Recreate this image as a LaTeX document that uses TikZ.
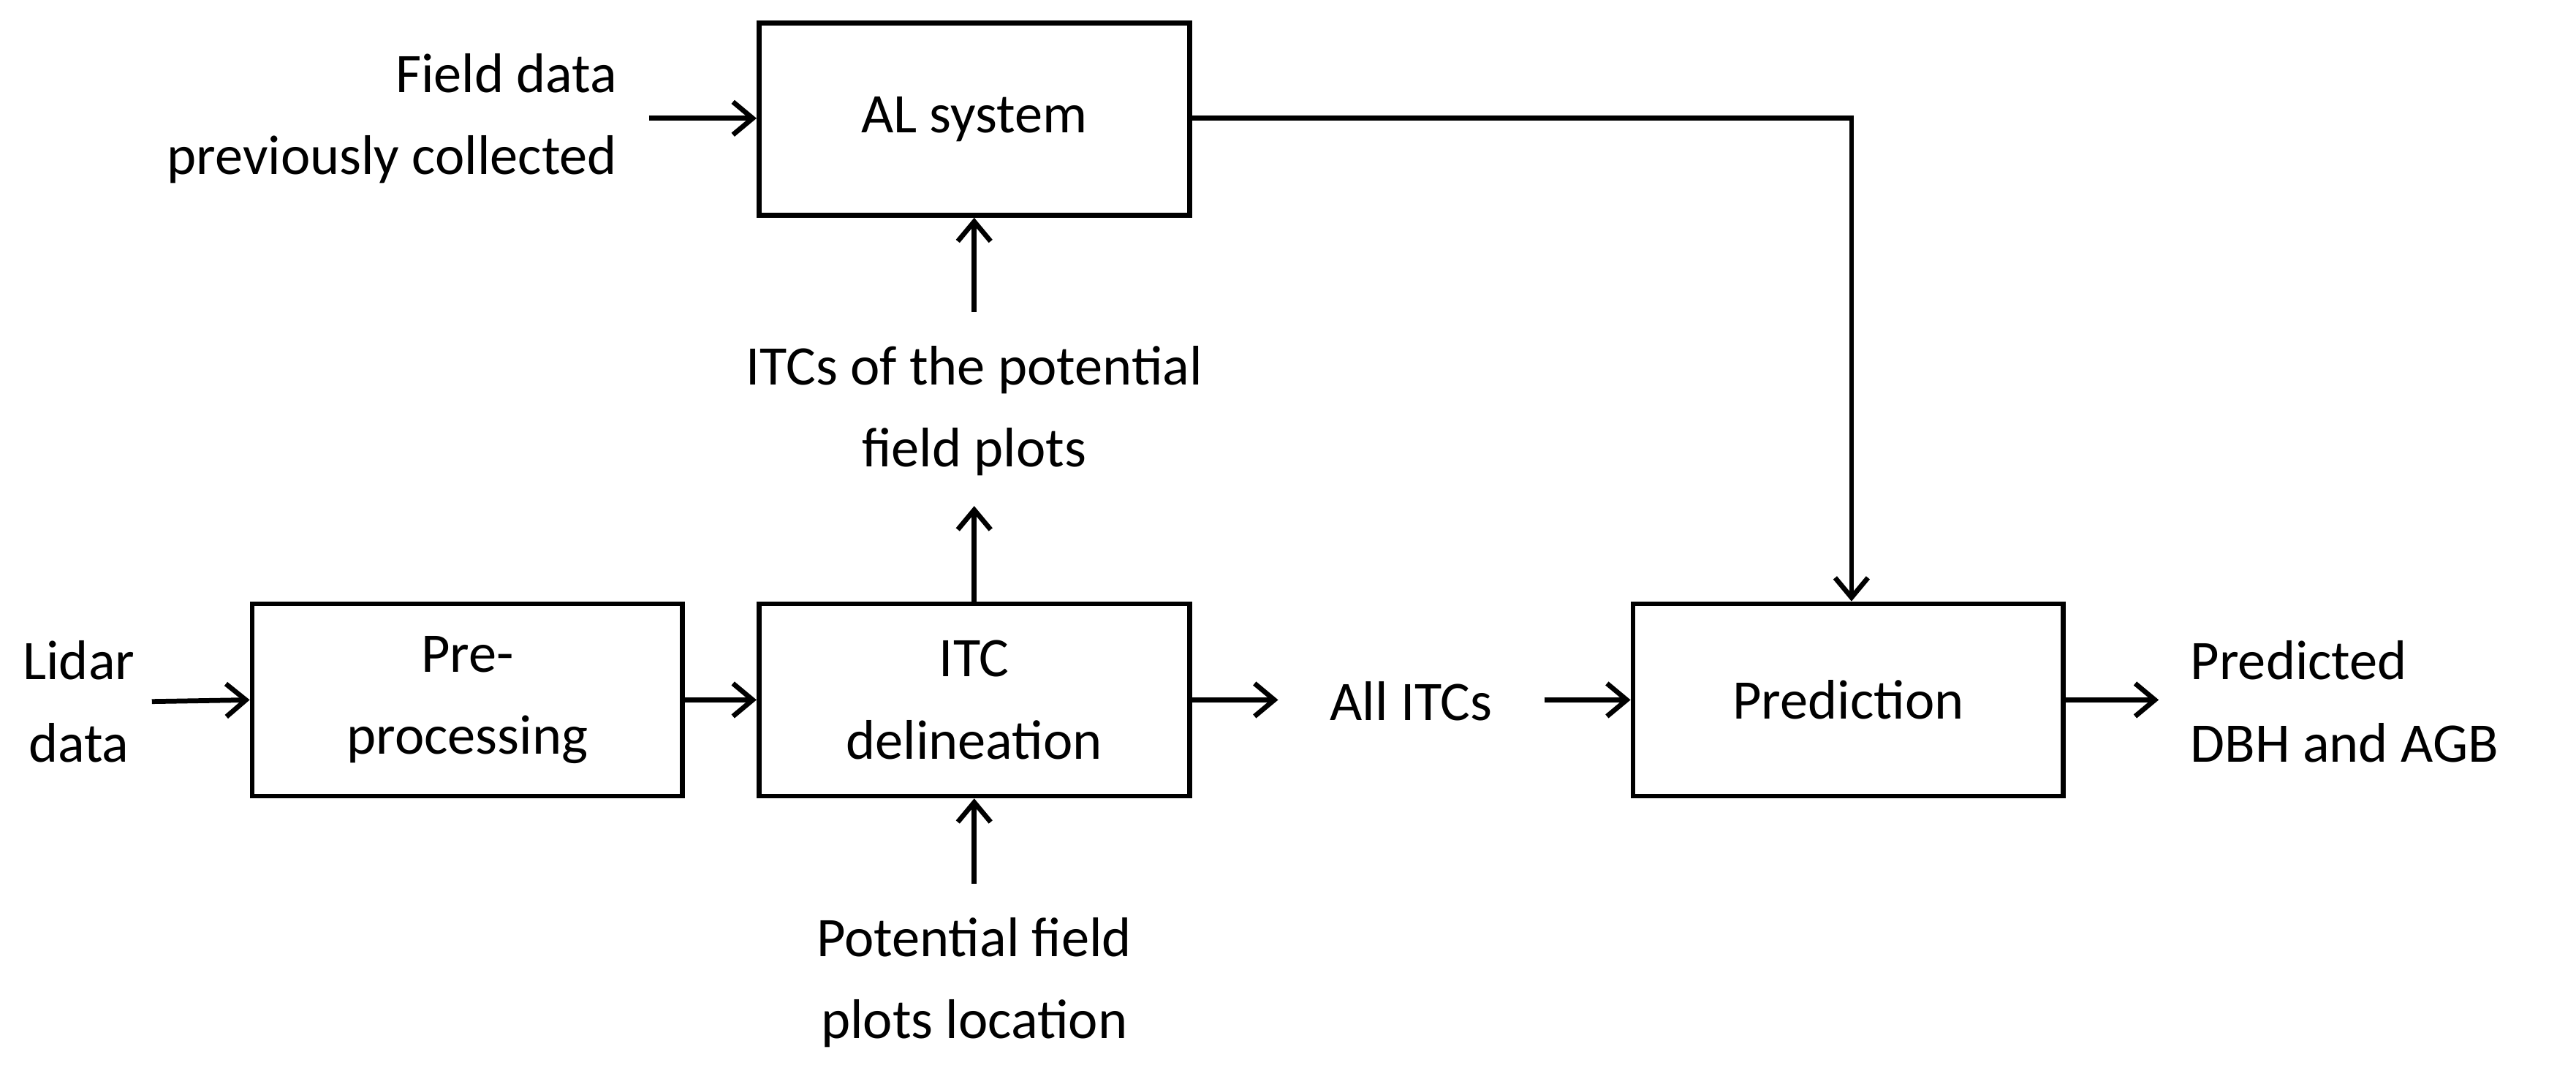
\documentclass[tikz,border=0pt]{standalone}
\usepackage{fontspec}
\setmainfont{Carlito}
\usetikzlibrary{arrows.meta}
\begin{document}
\begin{tikzpicture}[x=0.5pt,y=-0.5pt,
  box/.style={draw,line width=1.5pt,minimum width=131pt,minimum height=58.5pt,inner sep=0pt},
  lbl/.style={font=\fontsize{17}{25}\selectfont,align=center,inner sep=0pt},
  arr/.style={line width=1.5pt,-{Straight Barb[length=6pt,width=10pt,line width=1.5pt]}}]
\useasboundingbox (0,0) rectangle (1568,650);
\node[box] (al) at (593,72.5) {};
\node[lbl] at (al) {AL system};
\node[box] (pre) at (284.5,426) {};
\node[lbl] at (pre) {Pre-\\processing};
\node[box] (itc) at (593,426) {};
\node[lbl] at (itc) {ITC\\delineation};
\node[box] (pred) at (1125,426) {};
\node[lbl] at (pred) {Prediction};
\node[lbl,align=right,anchor=east] (field) at (376,72) {Field data\\previously collected};
\node[lbl] (itcs) at (593,250) {ITCs of the potential\\field plots};
\node[lbl] (lidar) at (48,427) {Lidar\\data};
\node[lbl] (all) at (859,427) {All ITCs};
\node[lbl,align=left,anchor=west] (out) at (1333,427) {Predicted\\DBH and AGB};
\node[lbl] (loc) at (593,598) {Potential field\\plots location};
\coordinate (c1) at (395,72);
\coordinate (c2) at (1127,72);
\draw[arr] (c1) -- (al.west |- c1);
\draw[arr] (593,190) -- (al.south);
\draw[arr] (itc.north) -- (593,308);
\draw[arr] (lidar.east)++(10,0) -- (pre.west);
\draw[arr] (pre.east) -- (itc.west);
\draw[arr] (itc.east) -- (778,426);
\draw[arr] (940,426) -- (pred.west);
\draw[arr] (pred.east) -- (1314,426);
\draw[arr] (593,538) -- (itc.south);
\draw[arr] (al.east |- c2) -- (c2) -- (pred.north -| c2);
\end{tikzpicture}
\end{document}
